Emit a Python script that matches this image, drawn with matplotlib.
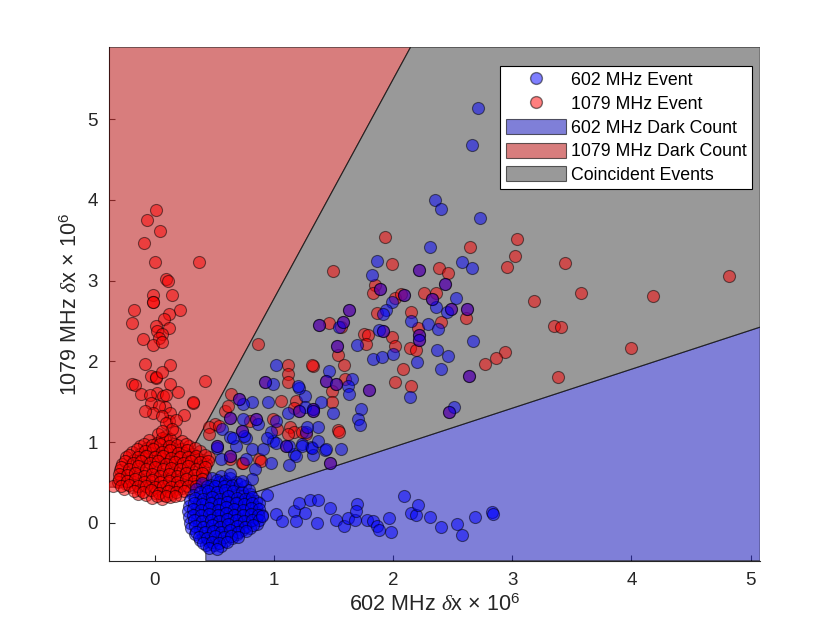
import numpy as np
import matplotlib
matplotlib.use("Agg")
import matplotlib.pyplot as plt
from matplotlib.lines import Line2D

plt.rcParams['font.family'] = ['Liberation Sans', 'DejaVu Sans']
plt.rcParams['mathtext.fontset'] = 'custom'
plt.rcParams['mathtext.rm'] = 'Liberation Sans'
plt.rcParams['mathtext.it'] = 'Liberation Serif:italic'

# region boundaries (units of 1e-6)
thr_x = 0.43
thr_y = 0.44
red_slope, red_icpt = 2.72, 0.05      # 1079 dark count / coincident border
blue_slope, blue_icpt = 0.483, -0.03  # 602 dark count / coincident border
xlim = (-0.38, 5.08)
ylim = (-0.47, 5.89)

# 1079 MHz events only (red)
red_cluster = [
    (0.03, 1.10), (0.10, 1.07), (0.17, 1.12),
    (-0.05, 1.02), (0.02, 0.99), (0.09, 1.03), (0.16, 0.98), (0.23, 1.01),
    (-0.12, 0.95), (-0.06, 0.92), (0.01, 0.94), (0.08, 0.90), (0.15, 0.93), (0.22, 0.91), (0.29, 0.95),
    (-0.19, 0.88), (-0.12, 0.85), (-0.04, 0.87), (0.03, 0.84), (0.10, 0.86), (0.18, 0.83), (0.25, 0.87),
    (0.32, 0.85), (0.38, 0.89),
    (-0.24, 0.81), (-0.17, 0.78), (-0.10, 0.80), (-0.02, 0.77), (0.05, 0.80), (0.12, 0.76), (0.19, 0.79),
    (0.26, 0.77), (0.33, 0.80), (0.40, 0.78), (0.46, 0.81),
    (-0.27, 0.73), (-0.20, 0.71), (-0.13, 0.74), (-0.06, 0.70), (0.01, 0.73), (0.08, 0.69), (0.15, 0.72),
    (0.22, 0.70), (0.29, 0.74), (0.36, 0.71), (0.43, 0.73),
    (-0.29, 0.65), (-0.22, 0.63), (-0.15, 0.66), (-0.08, 0.62), (-0.01, 0.65), (0.06, 0.61), (0.13, 0.64),
    (0.20, 0.62), (0.27, 0.66), (0.34, 0.63), (0.41, 0.66),
    (-0.28, 0.57), (-0.21, 0.55), (-0.14, 0.58), (-0.07, 0.54), (0.00, 0.57), (0.07, 0.53), (0.14, 0.56),
    (0.21, 0.54), (0.28, 0.58), (0.35, 0.55), (0.42, 0.58),
    (-0.31, 0.50), (-0.24, 0.48), (-0.17, 0.51), (-0.10, 0.47), (-0.03, 0.50), (0.04, 0.46), (0.11, 0.49),
    (0.18, 0.47), (0.25, 0.50), (0.32, 0.48), (0.39, 0.51),
    (-0.35, 0.46), (-0.26, 0.42), (-0.19, 0.44), (-0.12, 0.41), (-0.05, 0.43), (0.02, 0.40), (0.09, 0.42),
    (0.16, 0.40), (0.23, 0.43), (0.30, 0.41),
    (-0.14, 0.36), (-0.07, 0.35), (0.00, 0.37), (0.07, 0.34), (0.14, 0.36), (0.21, 0.35),
    (-0.02, 0.31), (0.06, 0.30), (0.13, 0.32),
    (0.06, 1.05), (0.13, 1.04),
    (-0.09, 0.98), (-0.02, 0.96), (0.05, 0.97), (0.12, 0.95), (0.19, 0.96), (0.26, 0.98),
    (-0.15, 0.91), (-0.08, 0.89), (-0.01, 0.91), (0.06, 0.88), (0.13, 0.90), (0.20, 0.87), (0.27, 0.90),
    (0.34, 0.92),
    (-0.21, 0.84), (-0.14, 0.82), (-0.07, 0.83), (0.00, 0.81), (0.07, 0.83), (0.14, 0.80), (0.21, 0.82),
    (0.28, 0.81), (0.35, 0.83), (0.42, 0.84),
    (-0.25, 0.76), (-0.18, 0.74), (-0.11, 0.77), (-0.04, 0.74), (0.03, 0.76), (0.10, 0.73), (0.17, 0.75),
    (0.24, 0.74), (0.31, 0.77), (0.38, 0.75), (0.45, 0.77),
    (-0.28, 0.69), (-0.21, 0.67), (-0.14, 0.70), (-0.07, 0.66), (0.00, 0.69), (0.07, 0.66), (0.14, 0.68),
    (0.21, 0.66), (0.28, 0.70), (0.35, 0.67), (0.42, 0.69),
    (-0.30, 0.61), (-0.23, 0.59), (-0.16, 0.62), (-0.09, 0.58), (-0.02, 0.61), (0.05, 0.58), (0.12, 0.60),
    (0.19, 0.58), (0.26, 0.62), (0.33, 0.59), (0.40, 0.62),
    (-0.30, 0.54), (-0.23, 0.52), (-0.16, 0.54), (-0.09, 0.51), (-0.02, 0.53), (0.05, 0.50), (0.12, 0.52),
    (0.19, 0.51), (0.26, 0.54), (0.33, 0.52), (0.40, 0.54),
    (-0.28, 0.46), (-0.21, 0.47), (-0.14, 0.45), (-0.07, 0.46), (0.00, 0.44), (0.07, 0.46), (0.14, 0.44),
    (0.21, 0.46), (0.28, 0.45), (0.35, 0.46),
    (-0.17, 0.39), (-0.10, 0.38), (-0.03, 0.40), (0.04, 0.37), (0.11, 0.39), (0.18, 0.38), (0.25, 0.39),
    (0.02, 0.33), (0.10, 0.33), (0.17, 0.33),
]
red_outliers = [
    (0.01, 3.88), (-0.06, 3.75), (0.05, 3.62), (-0.09, 3.47), (0.00, 3.23), (0.37, 3.23), (0.10, 3.02),
    (0.11, 3.00), (0.15, 2.82), (-0.01, 2.82), (-0.01, 2.73), (-0.01, 2.74), (-0.17, 2.63), (-0.19, 2.48),
    (0.21, 2.64), (0.12, 2.58), (0.08, 2.53), (0.01, 2.44), (0.12, 2.41), (0.02, 2.38), (0.06, 2.34),
    (0.04, 2.29), (-0.10, 2.27), (-0.01, 2.20), (0.06, 2.24), (-0.08, 1.97), (0.13, 1.96), (-0.03, 1.82),
    (0.01, 1.79), (0.01, 1.80), (-0.19, 1.72), (0.13, 1.72), (0.42, 1.75), (0.02, 1.61), (0.07, 1.57),
    (0.09, 1.43), (0.13, 1.36), (0.12, 1.26), (0.06, 1.87), (-0.16, 1.71), (-0.11, 1.59), (-0.04, 1.58),
    (0.10, 1.58), (0.20, 1.62), (0.32, 1.48), (-0.03, 1.48), (0.04, 1.45), (-0.01, 1.36), (0.25, 1.34),
    (-0.08, 1.39), (0.06, 1.32), (0.10, 1.23), (0.18, 1.27), (0.15, 1.16), (0.06, 1.14),
    (1.93, 3.54), (2.65, 3.41), (1.99, 3.21), (1.50, 3.12), (2.39, 3.16), (2.46, 3.09), (3.04, 3.51),
    (3.02, 3.30), (2.96, 3.17), (3.44, 3.22), (3.18, 2.75), (3.58, 2.85), (4.18, 2.81), (4.82, 3.06),
    (3.35, 2.44), (3.41, 2.43), (2.94, 2.12), (2.86, 2.04), (2.77, 1.97), (4.00, 2.16), (3.38, 1.81),
    (1.85, 2.94), (1.83, 2.85), (2.02, 2.79), (2.07, 2.83), (2.26, 2.84), (2.36, 2.84), (1.87, 2.60),
    (2.15, 2.61), (2.61, 2.54), (2.40, 2.49), (1.46, 2.47), (1.56, 2.43), (1.76, 2.34), (1.79, 2.33),
    (1.77, 2.21), (1.99, 2.30), (2.02, 2.19), (2.21, 2.41), (2.14, 2.16), (2.19, 2.14), (1.54, 2.08),
    (1.59, 1.96), (1.33, 1.94), (2.08, 1.91), (2.02, 1.74), (2.15, 1.69), (1.60, 1.78), (1.49, 1.63),
    (1.49, 1.49), (1.54, 1.15), (1.27, 1.10),
    (0.87, 2.21), (1.12, 1.95), (1.32, 1.95), (1.12, 1.84), (1.12, 1.74), (0.32, 1.49), (0.64, 1.60),
    (1.06, 1.51), (1.19, 1.51), (1.17, 1.42), (0.59, 1.38), (0.62, 1.45), (0.51, 1.22), (0.46, 1.18),
    (0.54, 1.20), (0.80, 1.26), (0.99, 1.29), (1.03, 1.16), (1.14, 1.18), (1.17, 1.12), (0.88, 0.79),
    (0.73, 0.74), (0.63, 0.79), (0.74, 0.74), (0.89, 0.77), (1.12, 1.10), (1.24, 1.12), (1.55, 1.12),
    (0.46, 1.10),
]

# 602 MHz events only (blue)
blue_cluster = [
    (0.48, 0.56), (0.56, 0.58), (0.63, 0.55),
    (0.40, 0.49), (0.47, 0.47), (0.54, 0.50), (0.61, 0.48), (0.68, 0.51),
    (0.35, 0.42), (0.42, 0.40), (0.49, 0.43), (0.56, 0.41), (0.63, 0.44), (0.70, 0.42), (0.76, 0.45),
    (0.32, 0.35), (0.39, 0.33), (0.46, 0.36), (0.53, 0.34), (0.60, 0.37), (0.67, 0.35), (0.74, 0.33),
    (0.80, 0.36),
    (0.30, 0.28), (0.37, 0.26), (0.44, 0.29), (0.51, 0.27), (0.58, 0.30), (0.65, 0.28), (0.72, 0.26),
    (0.79, 0.29), (0.85, 0.27),
    (0.29, 0.21), (0.36, 0.19), (0.43, 0.22), (0.50, 0.20), (0.57, 0.23), (0.64, 0.21), (0.71, 0.19),
    (0.78, 0.22), (0.85, 0.20),
    (0.28, 0.14), (0.35, 0.12), (0.42, 0.15), (0.49, 0.13), (0.56, 0.16), (0.63, 0.14), (0.70, 0.12),
    (0.77, 0.15), (0.84, 0.13), (0.90, 0.10),
    (0.29, 0.07), (0.36, 0.05), (0.43, 0.08), (0.50, 0.06), (0.57, 0.09), (0.64, 0.07), (0.71, 0.05),
    (0.78, 0.08), (0.85, 0.06),
    (0.30, 0.00), (0.37, -0.02), (0.44, 0.01), (0.51, -0.01), (0.58, 0.02), (0.65, 0.00), (0.72, -0.02),
    (0.79, 0.01), (0.86, -0.01),
    (0.31, -0.07), (0.38, -0.09), (0.45, -0.06), (0.52, -0.08), (0.59, -0.05), (0.66, -0.07), (0.73, -0.09),
    (0.80, -0.06),
    (0.34, -0.14), (0.41, -0.16), (0.48, -0.13), (0.55, -0.15), (0.62, -0.12), (0.69, -0.14),
    (0.38, -0.21), (0.45, -0.23), (0.52, -0.20), (0.59, -0.22), (0.65, -0.19),
    (0.43, -0.28), (0.50, -0.27), (0.56, -0.29),
    (0.52, 0.53), (0.59, 0.52),
    (0.44, 0.45), (0.51, 0.46), (0.58, 0.45), (0.65, 0.47), (0.72, 0.48),
    (0.38, 0.38), (0.45, 0.39), (0.52, 0.38), (0.59, 0.40), (0.66, 0.39), (0.73, 0.38), (0.79, 0.40),
    (0.34, 0.31), (0.41, 0.30), (0.48, 0.32), (0.55, 0.30), (0.62, 0.33), (0.69, 0.31), (0.76, 0.30),
    (0.82, 0.32),
    (0.33, 0.24), (0.40, 0.23), (0.47, 0.25), (0.54, 0.23), (0.61, 0.26), (0.68, 0.24), (0.75, 0.23),
    (0.82, 0.25), (0.88, 0.24),
    (0.32, 0.17), (0.39, 0.16), (0.46, 0.18), (0.53, 0.16), (0.60, 0.19), (0.67, 0.17), (0.74, 0.16),
    (0.81, 0.18), (0.88, 0.17),
    (0.32, 0.10), (0.39, 0.09), (0.46, 0.11), (0.53, 0.09), (0.60, 0.12), (0.67, 0.10), (0.74, 0.09),
    (0.81, 0.11), (0.87, 0.09),
    (0.33, 0.03), (0.40, 0.02), (0.47, 0.04), (0.54, 0.02), (0.61, 0.05), (0.68, 0.03), (0.75, 0.02),
    (0.82, 0.04), (0.88, 0.03),
    (0.34, -0.04), (0.41, -0.05), (0.48, -0.03), (0.55, -0.05), (0.62, -0.02), (0.69, -0.04), (0.76, -0.05),
    (0.83, -0.03),
    (0.35, -0.11), (0.42, -0.12), (0.49, -0.10), (0.56, -0.12), (0.63, -0.09), (0.70, -0.11), (0.77, -0.10),
    (0.37, -0.18), (0.44, -0.19), (0.51, -0.17), (0.58, -0.18), (0.64, -0.16), (0.70, -0.18),
    (0.41, -0.25), (0.48, -0.24), (0.54, -0.25), (0.61, -0.24),
    (0.46, -0.31), (0.52, -0.32),
]
blue_outliers = [
    (0.90, 0.08), (0.94, 0.35), (1.02, 0.11), (1.07, 0.02), (1.17, 0.14), (1.19, 0.02), (1.21, 0.25),
    (1.26, 0.12), (1.30, 0.28), (1.37, 0.28), (1.36, 0.00), (1.47, 0.18), (1.52, 0.04), (1.59, -0.04),
    (1.62, 0.06), (1.68, 0.04), (1.70, 0.23), (1.69, 0.14), (1.78, 0.03), (1.83, 0.02), (1.87, -0.04),
    (1.88, -0.09), (1.97, 0.06), (1.98, -0.12), (2.09, 0.33), (2.15, 0.12), (2.19, 0.10), (2.21, 0.22),
    (2.31, 0.07), (2.40, -0.05), (2.54, -0.02), (2.58, -0.15), (2.69, 0.07), (2.83, 0.13), (2.84, 0.11),
    (2.71, 5.14), (2.66, 4.68), (2.35, 4.00), (2.40, 3.89), (2.73, 3.77), (2.31, 3.42), (1.87, 3.24),
    (2.58, 3.23), (2.66, 3.15), (1.82, 3.07), (1.99, 2.73), (1.94, 2.63), (1.92, 2.58), (2.36, 2.67),
    (2.53, 2.79), (2.45, 2.61), (2.15, 2.50), (2.29, 2.46), (2.38, 2.40), (1.88, 2.39), (1.55, 2.42),
    (1.70, 2.20), (1.83, 2.03), (1.91, 2.05), (2.00, 2.09), (2.20, 1.99), (2.37, 2.14), (2.46, 2.07),
    (2.40, 1.90), (2.67, 2.25), (2.14, 1.56), (2.51, 1.44), (1.46, 1.88), (1.66, 1.78), (1.62, 1.69),
    (1.63, 1.59), (1.40, 1.49), (1.50, 1.36), (1.73, 1.41), (1.71, 1.28), (1.72, 1.21), (1.26, 1.57),
    (1.21, 1.67), (1.26, 1.43), (1.37, 1.18), (1.27, 1.12), (1.31, 0.94), (1.43, 0.90), (1.56, 0.91),
    (1.33, 0.84), (1.24, 0.97),
    (1.02, 1.95), (0.99, 1.72), (1.20, 1.69), (0.82, 1.49), (0.95, 1.50), (0.74, 1.47), (0.74, 1.29),
    (0.87, 1.22), (1.02, 1.26), (1.12, 1.36), (1.28, 1.18), (0.57, 1.16), (0.63, 1.06), (0.77, 1.05),
    (0.68, 0.95), (0.82, 0.91), (0.91, 0.91), (0.99, 1.01), (0.98, 1.12), (1.17, 0.85), (1.24, 0.95),
    (1.32, 0.93), (1.37, 1.01), (0.52, 0.93), (0.56, 0.79), (0.77, 0.79), (0.98, 0.74),
    (0.66, 1.05), (0.75, 1.07), (0.94, 1.05), (1.02, 0.99), (1.13, 0.95), (1.19, 0.83), (1.44, 0.91),
    (1.13, 0.72), (0.84, 0.66), (0.82, 0.54), (0.63, 0.60), (0.73, 0.52),
]

# seen by both detectors (red and blue on top of each other)
both_events = [
    (2.22, 3.13), (2.44, 2.96), (1.89, 2.89), (2.09, 2.82), (2.33, 2.77), (2.49, 2.65), (2.62, 2.65),
    (1.92, 2.37), (2.22, 2.32), (2.22, 2.26), (1.63, 2.63), (1.38, 2.45), (1.58, 2.49), (1.53, 2.19),
    (2.64, 1.82), (2.47, 1.37), (1.44, 1.76), (1.52, 1.72), (1.80, 1.65), (1.33, 1.41), (1.47, 0.74),
    (0.93, 1.74), (0.71, 1.53), (0.63, 1.30), (0.85, 1.29), (1.21, 1.38), (1.33, 1.39), (0.73, 1.14),
    (1.10, 0.95), (0.63, 0.83), (0.52, 0.95),
]

red_pts = np.array(red_cluster + red_outliers + both_events)
blue_pts = np.array(blue_cluster + blue_outliers + both_events)

fig = plt.figure(figsize=(8.4, 6.3), dpi=100)
ax = fig.add_axes([0.13, 0.11, 0.775, 0.815])

x0, x1 = xlim
y0, y1 = ylim
x_red_low = (thr_y - red_icpt) / red_slope
x_red_top = (y1 - red_icpt) / red_slope
y_blue_thr = blue_slope * thr_x + blue_icpt
y_blue_right = blue_slope * x1 + blue_icpt

fill_kw = dict(edgecolor='k', linewidth=0.8, alpha=0.6, zorder=3)
blue_fill = ax.fill([thr_x, thr_x, x1, x1], [y0, y_blue_thr, y_blue_right, y0],
                    facecolor=(42/255, 42/255, 190/255), **fill_kw)[0]
red_fill = ax.fill([x0, x_red_low, x_red_top, x0], [thr_y, thr_y, y1, y1],
                   facecolor=(190/255, 38/255, 38/255), **fill_kw)[0]
grey_fill = ax.fill([x_red_low, thr_x, thr_x, x1, x1, x_red_top],
                    [thr_y, thr_y, y_blue_thr, y_blue_right, y1, y1],
                    facecolor=(85/255, 85/255, 85/255), **fill_kw)[0]

ax.scatter(red_pts[:, 0], red_pts[:, 1], s=75, c='r', alpha=0.5,
           edgecolors='k', linewidths=0.8, zorder=4)
ax.scatter(blue_pts[:, 0], blue_pts[:, 1], s=75, c='b', alpha=0.5,
           edgecolors='k', linewidths=0.8, zorder=4.5)

ax.set_xlim(xlim)
ax.set_ylim(ylim)
ax.set_xticks([0, 1, 2, 3, 4, 5])
ax.set_yticks([0, 1, 2, 3, 4, 5])
ax.spines['top'].set_visible(False)
ax.spines['right'].set_visible(False)
for side in ['left', 'bottom']:
    ax.spines[side].set_color('#262626')
    ax.spines[side].set_linewidth(0.8)
ax.tick_params(direction='in', length=4.3, width=0.8, colors='#262626',
               labelsize=13.5, pad=8)

ax.set_xlabel(r'602 MHz $\delta$x $\times$ 10$^{\mathrm{6}}$', fontsize=15.5, color='#262626')
ax.set_ylabel(r'1079 MHz $\delta$x $\times$ 10$^{\mathrm{6}}$', fontsize=15.5, color='#262626')

h_blue = Line2D([], [], ls='none', marker='o', markersize=8.5,
                markerfacecolor=(0, 0, 1, 0.5), markeredgecolor=(0, 0, 0, 0.5))
h_red = Line2D([], [], ls='none', marker='o', markersize=8.5,
               markerfacecolor=(1, 0, 0, 0.5), markeredgecolor=(0, 0, 0, 0.5))
leg = ax.legend([h_blue, h_red, blue_fill, red_fill, grey_fill],
                ['602 MHz Event', '1079 MHz Event', '602 MHz Dark Count',
                 '1079 MHz Dark Count', 'Coincident Events'],
                loc='upper right', bbox_to_anchor=(0.988, 0.963), borderaxespad=0,
                fontsize=12.8, fancybox=False, framealpha=1, edgecolor='k',
                handlelength=3.4, handleheight=0.95, handletextpad=0.3,
                labelspacing=0.33, borderpad=0.3)
leg.get_frame().set_linewidth(0.8)
leg.set_zorder(10)

fig.savefig('out.png', dpi=100, facecolor='white')
